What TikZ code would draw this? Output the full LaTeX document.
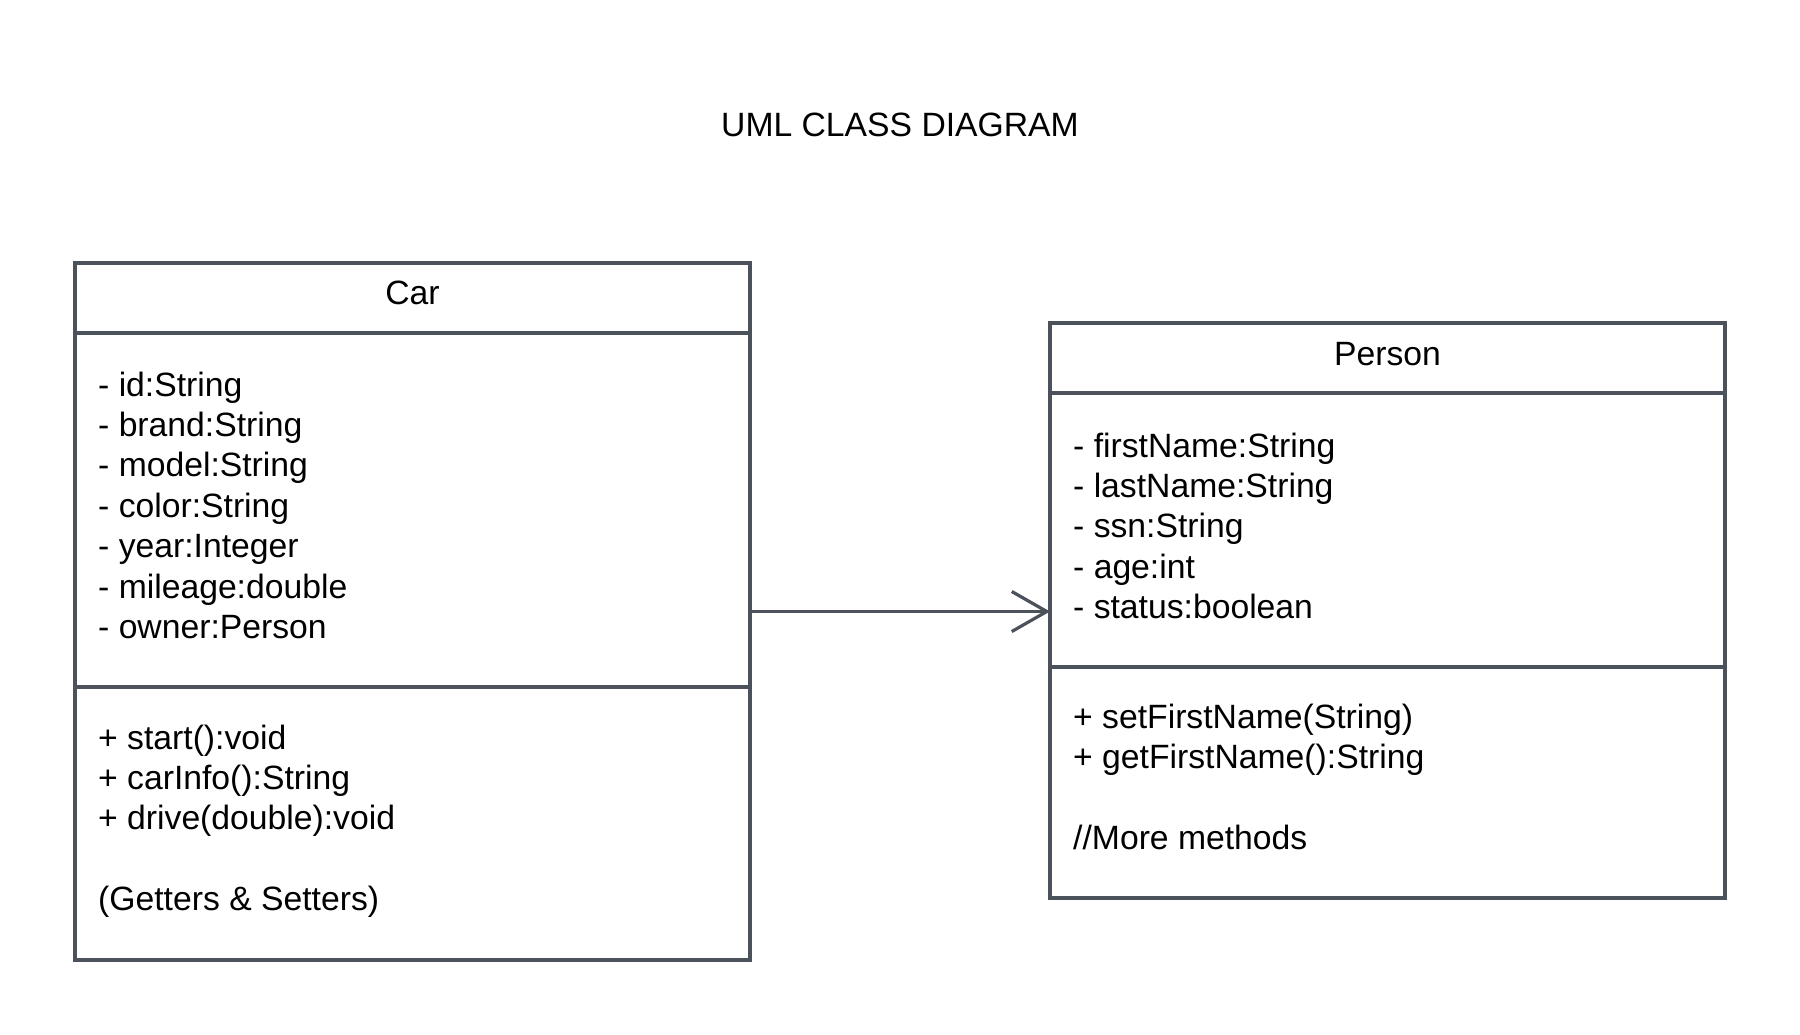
\documentclass[tikz,border=0pt]{standalone}
\usepackage{fontspec}
\setmainfont{Liberation Sans}
\usetikzlibrary{arrows.meta}
\definecolor{umlline}{RGB}{76,82,91}
\begin{document}
\begin{tikzpicture}[x=1pt,y=-1pt,
  umlbox/.style={draw=umlline,line width=3.2pt,rectangle,inner sep=0pt,outer sep=0pt},
  divider/.style={draw=umlline,line width=3.2pt},
  txt/.style={anchor=base west,inner sep=0pt,font=\fontsize{33.7}{40}\selectfont,text=black},
  ctxt/.style={anchor=base,inner sep=0pt,font=\fontsize{33.7}{40}\selectfont,text=black},
  assoc/.style={draw=umlline,line width=3.2pt,-{Straight Barb[length=35pt,width=40pt]}}]
\fill[white] (0,0) rectangle (1800,1035);
\useasboundingbox (0,0) rectangle (1800,1035);

\node[ctxt] (title) at (900,137) {UML CLASS DIAGRAM};

% Car class
\node[umlbox,minimum width=675pt,minimum height=697pt] (car) at (412.5,611.5) {};
\draw[divider] (car.west |- 0,333) coordinate (c1) -- (car.east |- 0,333) coordinate (c2);
\draw[divider] (car.west |- 0,687) coordinate (c3) -- (car.east |- 0,687) coordinate (c4);
\node[ctxt] (carname) at (412.5,305) {Car};
\foreach \t [count=\i from 0] in {- id:String,- brand:String,- model:String,- color:String,- year:Integer,- mileage:double,- owner:Person}
  \node[txt] (cattr\i) at (98,396+40.4*\i) {\t};
\foreach \t [count=\i from 0] in {+ start():void,+ carInfo():String,+ drive(double):void}
  \node[txt] (cmeth\i) at (98,749+40.4*\i) {\t};
\node[txt] (cmeth3) at (98,910) {(Getters \& Setters)};

% Person class
\node[umlbox,minimum width=675pt,minimum height=575pt] (person) at (1387.5,610.5) {};
\draw[divider] (person.west |- 0,393) coordinate (p1) -- (person.east |- 0,393) coordinate (p2);
\draw[divider] (person.west |- 0,667) coordinate (p3) -- (person.east |- 0,667) coordinate (p4);
\node[ctxt] (personname) at (1387.5,365) {Person};
\foreach \t [count=\i from 0] in {- firstName:String,- lastName:String,- ssn:String,- age:int,- status:boolean}
  \node[txt] (pattr\i) at (1073,457+40.4*\i) {\t};
\node[txt] (pmeth0) at (1073,728) {+ setFirstName(String)};
\node[txt] (pmeth1) at (1073,768.4) {+ getFirstName():String};
\node[txt] (pmeth2) at (1073,849.5) {//More methods};

% association
\coordinate (aend) at (car.east -| person.west);
\draw[assoc] (car.east) -- (aend);
\end{tikzpicture}
\end{document}
